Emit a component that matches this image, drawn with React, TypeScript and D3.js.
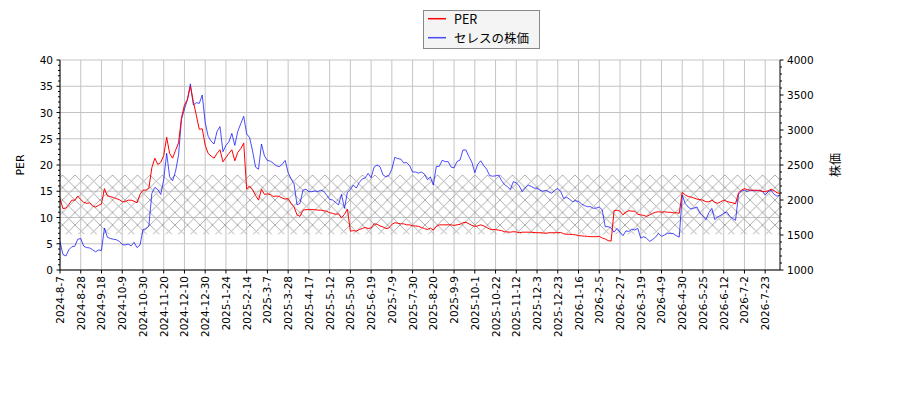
import React from "react";
import * as d3 from "d3";

const tickLabels: string[] = [
  "2024-8-7", "2024-8-28", "2024-9-18", "2024-10-9", "2024-10-30", "2024-11-20", "2024-12-10",
  "2024-12-30", "2025-1-24", "2025-2-14", "2025-3-7", "2025-3-28", "2025-4-17", "2025-5-12",
  "2025-5-30", "2025-6-19", "2025-7-9", "2025-7-30", "2025-8-20", "2025-9-9", "2025-10-1",
  "2025-10-22", "2025-11-12", "2025-12-3", "2025-12-23", "2026-1-16", "2026-2-5", "2026-2-27",
  "2026-3-19", "2026-4-9", "2026-4-30", "2026-5-25", "2026-6-12", "2026-7-2", "2026-7-23",
];
const tickEvery = 7;

const perValues: number[] = [
  13.6, 11.7, 11.8, 12.5, 13.3, 13.3, 14.1, 13.4, 12.9, 12.7,
  12.8, 12.2, 12.0, 12.3, 12.6, 15.5, 14.1, 14.0, 13.8, 13.6,
  13.4, 13.0, 13.0, 13.3, 13.3, 13.1, 12.8, 14.4, 15.2, 15.2,
  15.6, 19.5, 21.3, 20.1, 20.5, 21.8, 25.3, 22.2, 21.3, 22.8,
  24.2, 29.0, 31.4, 32.5, 35.0, 32.1, 29.5, 26.8, 26.9, 23.8,
  22.2, 21.7, 21.3, 22.2, 22.9, 20.6, 21.4, 22.2, 22.9, 20.8,
  22.4, 23.1, 24.2, 15.4, 16.0, 15.3, 14.2, 13.3, 15.4, 14.4,
  14.5, 14.4, 14.0, 14.1, 14.0, 13.7, 13.5, 13.6, 12.7, 12.0,
  10.5, 10.2, 11.4, 11.5, 11.5, 11.5, 11.5, 11.4, 11.4, 11.3,
  11.2, 10.9, 10.8, 10.6, 10.7, 9.9, 10.6, 11.6, 7.4, 7.5,
  7.4, 7.7, 7.9, 8.1, 7.9, 8.0, 8.8, 8.7, 8.4, 8.2,
  7.9, 8.0, 8.7, 9.0, 8.9, 8.8, 8.8, 8.6, 8.6, 8.4,
  8.4, 8.3, 8.1, 7.9, 7.7, 8.0, 7.6, 8.3, 8.6, 8.6,
  8.6, 8.6, 8.6, 8.5, 8.6, 8.7, 9.0, 9.1, 8.8, 8.5,
  8.3, 8.4, 8.6, 8.4, 8.1, 7.8, 7.7, 7.7, 7.6, 7.5,
  7.3, 7.25, 7.2, 7.3, 7.25, 7.1, 7.2, 7.2, 7.2, 7.2,
  7.15, 7.1, 7.1, 7.05, 7.0, 7.1, 7.1, 7.1, 7.1, 7.15,
  6.9, 6.8, 6.8, 6.75, 6.7, 6.55, 6.5, 6.45, 6.4, 6.35,
  6.35, 6.35, 6.4, 6.1, 5.9, 5.6, 5.5, 11.3, 11.4, 11.2,
  10.5, 11.0, 11.3, 11.2, 11.2, 10.6, 10.5, 10.4, 10.2, 10.5,
  10.8, 11.0, 11.1, 11.0, 11.1, 11.0, 11.0, 10.9, 10.9, 10.8,
  14.8, 14.3, 14.0, 13.9, 13.7, 13.5, 13.4, 13.3, 13.0, 13.0,
  13.3, 12.9, 12.7, 13.0, 13.3, 13.1, 12.9, 12.8, 12.6, 14.7,
  15.2, 15.5, 15.3, 15.2, 15.2, 15.2, 15.1, 15.0, 14.9, 15.1,
  15.4, 15.1, 14.7, 14.6,
];

const priceValues: number[] = [
  1405, 1220, 1200, 1290, 1333, 1340, 1440, 1450, 1340, 1320,
  1315, 1290, 1260, 1285, 1280, 1600, 1467, 1450, 1440, 1433,
  1410, 1365, 1357, 1370, 1345, 1395, 1320, 1357, 1575, 1592,
  1630, 2095, 2180, 2150, 2080, 2290, 2667, 2333, 2275, 2410,
  2640, 3150, 3300, 3430, 3660, 3357, 3390, 3380, 3500, 3110,
  2910, 2840, 2800, 2980, 3048, 2690, 2780, 2830, 2952, 2780,
  2980, 3090, 3195, 2945, 2890, 2700, 2470, 2440, 2800, 2630,
  2565, 2555, 2524, 2490, 2476, 2510, 2565, 2390, 2300, 2230,
  1930, 1952, 2140, 2155, 2119, 2119, 2130, 2120, 2140, 2125,
  2070, 2010, 2000, 1965, 1930, 2080, 1881, 2110, 2150, 2214,
  2170, 2250, 2300, 2315, 2380, 2318, 2470, 2500, 2476, 2360,
  2330, 2350, 2440, 2610, 2590, 2585, 2530, 2535, 2490, 2400,
  2400, 2385, 2400, 2370, 2290, 2330, 2214, 2480, 2480, 2568,
  2548, 2548, 2470, 2460, 2550, 2571, 2714, 2715, 2620, 2540,
  2390, 2510, 2560, 2490, 2440, 2350, 2340, 2345, 2355, 2280,
  2220, 2190, 2150, 2262, 2245, 2200, 2119, 2170, 2214, 2195,
  2170, 2170, 2140, 2125, 2138, 2115, 2097, 2140, 2165, 2120,
  2020, 2040, 2010, 1976, 1990, 1980, 1945, 1920, 1905, 1905,
  1881, 1885, 1900, 1860, 1619, 1619, 1600, 1540, 1595, 1540,
  1490, 1560, 1550, 1585, 1571, 1595, 1455, 1476, 1452, 1410,
  1435, 1470, 1524, 1480, 1500, 1524, 1524, 1520, 1490, 1470,
  2071, 1950, 1900, 1870, 1885, 1900, 1810, 1770, 1720, 1820,
  1880, 1720, 1760, 1780, 1810, 1830, 1770, 1735, 1710, 2080,
  2130, 2140, 2119, 2143, 2133, 2133, 2140, 2125, 2071, 2119,
  2140, 2080, 2055, 2071,
];

const perTicks: number[] = [0, 5, 10, 15, 20, 25, 30, 35, 40];
const priceTicks: number[] = [1000, 1500, 2000, 2500, 3000, 3500, 4000];
const bandLow = 6.8;
const bandHigh = 18.1;
const legendLabels: string[] = ["PER", "セレスの株価"];

const W = 900;
const H = 400;
const M = { left: 60, right: 780, top: 60, bottom: 270 };
const RED = "#ff0000";
const BLUE = "rgba(0,0,255,0.7)";
const GRID = "#c4c4c4";
const FONT = "'DejaVu Sans', sans-serif";
const JFONT = "'Noto Sans CJK JP', 'DejaVu Sans', sans-serif";

export default function App() {
  const n = perValues.length;
  const x = d3.scaleLinear().domain([0, n - 1]).range([M.left, M.right]);
  const yL = d3.scaleLinear().domain([0, 40]).range([M.bottom, M.top]);
  const yR = d3.scaleLinear().domain([1000, 4000]).range([M.bottom, M.top]);

  const perLine = d3.line<number>().x((_, i) => x(i)).y((d) => yL(d))(perValues) || "";
  const priceLine = d3.line<number>().x((_, i) => x(i)).y((d) => yR(d))(priceValues) || "";

  const minorL = d3.range(0, 41, 1);
  const minorR = d3.range(1000, 4001, 100);
  const hatch = 12.5;

  return (
    <svg width={W} height={H} style={{ position: "absolute", left: 0, top: 0, background: "#fff" }}>
      <defs>
        <pattern id="hatchX" patternUnits="userSpaceOnUse" width={hatch} height={hatch}>
          <line x1={0} y1={0} x2={hatch} y2={hatch} stroke="#a4a4a4" strokeWidth={0.9} />
          <line x1={0} y1={hatch} x2={hatch} y2={0} stroke="#a4a4a4" strokeWidth={0.9} />
        </pattern>
        <clipPath id="plotClip">
          <rect x={M.left} y={M.top} width={M.right - M.left} height={M.bottom - M.top} />
        </clipPath>
      </defs>

      {/* grid */}
      {tickLabels.map((_, i) => (
        <line key={"gx" + i} x1={x(i * tickEvery)} x2={x(i * tickEvery)} y1={M.top} y2={M.bottom}
          stroke={GRID} strokeWidth={1} />
      ))}
      {perTicks.map((t) => (
        <line key={"gy" + t} x1={M.left} x2={M.right} y1={yL(t)} y2={yL(t)} stroke={GRID} strokeWidth={1} />
      ))}

      {/* hatched band */}
      <rect x={M.left} y={yL(bandHigh)} width={M.right - M.left} height={yL(bandLow) - yL(bandHigh)}
        fill="url(#hatchX)" />

      {/* lines */}
      <g clipPath="url(#plotClip)">
        <path d={priceLine} fill="none" stroke={BLUE} strokeWidth={1} />
        <path d={perLine} fill="none" stroke={RED} strokeWidth={1} />
      </g>

      {/* spines */}
      <line x1={M.left} x2={M.left} y1={M.top} y2={M.bottom} stroke="#000" />
      <line x1={M.right} x2={M.right} y1={M.top} y2={M.bottom} stroke="#000" />
      <line x1={M.left} x2={M.right} y1={M.bottom} y2={M.bottom} stroke="#000" />

      {/* left ticks */}
      {minorL.map((t) => (
        <line key={"ml" + t} x1={M.left - (t % 5 === 0 ? 3.5 : 2)} x2={M.left} y1={yL(t)} y2={yL(t)} stroke="#000" />
      ))}
      {perTicks.map((t) => (
        <text key={"tl" + t} x={M.left - 7} y={yL(t)} textAnchor="end" dominantBaseline="central"
          fontFamily={FONT} fontSize={10.5} fill="#000">{t}</text>
      ))}

      {/* right ticks */}
      {minorR.map((t) => (
        <line key={"mr" + t} x1={M.right} x2={M.right + (t % 500 === 0 ? 3.5 : 2)} y1={yR(t)} y2={yR(t)} stroke="#000" />
      ))}
      {priceTicks.map((t) => (
        <text key={"tr" + t} x={M.right + 7} y={yR(t)} textAnchor="start" dominantBaseline="central"
          fontFamily={FONT} fontSize={10.5} fill="#000">{t}</text>
      ))}

      {/* bottom ticks */}
      {tickLabels.map((lab, i) => {
        const px = x(i * tickEvery);
        return (
          <g key={"bx" + i}>
            <line x1={px} x2={px} y1={M.bottom} y2={M.bottom + 3.5} stroke="#000" />
            <text transform={`translate(${px},${M.bottom + 6}) rotate(-90)`} textAnchor="end"
              dominantBaseline="central" fontFamily={FONT} fontSize={10.5} fill="#000">{lab}</text>
          </g>
        );
      })}

      {/* axis labels */}
      <text transform={`translate(20,165) rotate(-90)`} textAnchor="middle" dominantBaseline="central"
        fontFamily={FONT} fontSize={11} fill="#000">PER</text>
      <text transform={`translate(834,165) rotate(-90)`} textAnchor="middle" dominantBaseline="central"
        fontFamily={JFONT} fontSize={12} fill="#000">株価</text>

      {/* legend */}
      <rect x={423.5} y={10.5} width={116} height={38} fill="#f4f4f4" stroke="#888" strokeWidth={1} />
      <line x1={428} x2={446} y1={18.7} y2={18.7} stroke={RED} strokeWidth={1.5} />
      <line x1={428} x2={446} y1={37.7} y2={37.7} stroke={BLUE} strokeWidth={1.5} />
      <text x={454} y={18.7} dominantBaseline="central" fontFamily={JFONT} fontSize={12.5} fill="#000">{legendLabels[0]}</text>
      <text x={454} y={37.7} dominantBaseline="central" fontFamily={JFONT} fontSize={12.5} fill="#000">{legendLabels[1]}</text>
    </svg>
  );
}
